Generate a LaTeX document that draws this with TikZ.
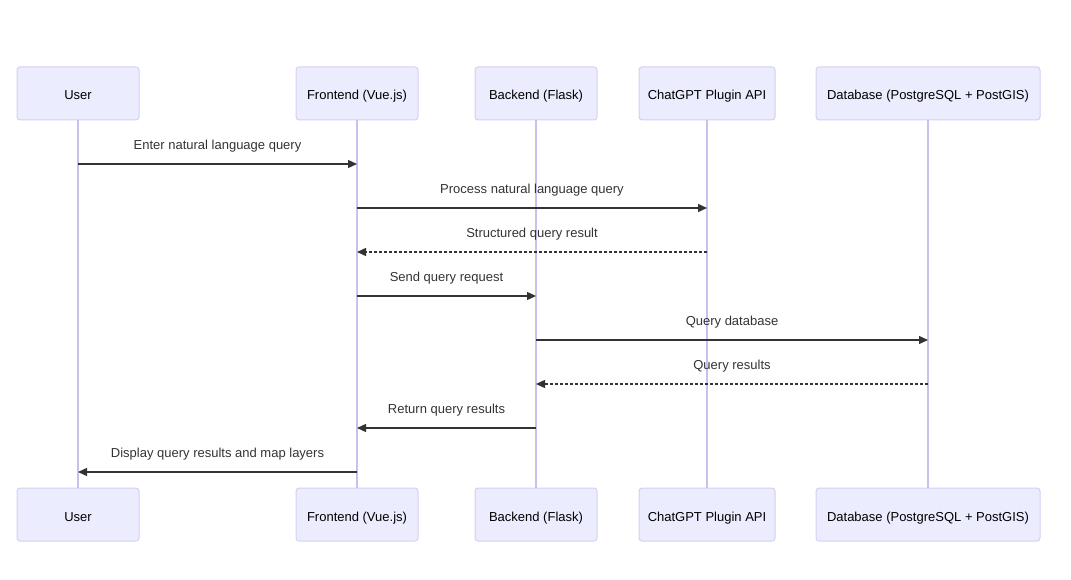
\documentclass[tikz,border=0pt]{standalone}
\usepackage{fontspec}
\setmainfont{Liberation Sans}
\usetikzlibrary{arrows.meta}
\definecolor{actfill}{HTML}{ECECFF}
\definecolor{actline}{HTML}{D6CEF2}
\definecolor{lifeline}{HTML}{CBBFF0}
\definecolor{msgc}{HTML}{333333}
\begin{document}
\begin{tikzpicture}[x=1pt,y=-1pt,
  actor/.style={draw=actline,fill=actfill,rounded corners=3pt,line width=1pt,
    minimum height=53pt,inner sep=0pt,text height=13pt,text depth=0pt,
    font=\fontsize{13}{15}\selectfont,text=black},
  life/.style={draw=lifeline,line width=1.2pt},
  msg/.style={draw=msgc,line width=1.4pt,-{Triangle[length=9pt,width=8pt]}},
  reply/.style={msg,dash pattern=on 3pt off 2pt},
  lbl/.style={font=\fontsize{13}{15}\selectfont,text=msgc,above=11pt,inner sep=0pt}]
\useasboundingbox (0,0) rectangle (1071,580);
% top actors
\node[actor,minimum width=122pt] (uT) at (78,93.5) {User};
\node[actor,minimum width=122pt] (fT) at (357,93.5) {Frontend (Vue.js)};
\node[actor,minimum width=122pt] (bT) at (536,93.5) {Backend (Flask)};
\node[actor,minimum width=136pt] (cT) at (707,93.5) {ChatGPT Plugin API};
\node[actor,minimum width=224pt] (dT) at (928,93.5) {Database (PostgreSQL + PostGIS)};
% bottom actors
\node[actor,minimum width=122pt] (uB) at (78,514.5) {User};
\node[actor,minimum width=122pt] (fB) at (357,514.5) {Frontend (Vue.js)};
\node[actor,minimum width=122pt] (bB) at (536,514.5) {Backend (Flask)};
\node[actor,minimum width=136pt] (cB) at (707,514.5) {ChatGPT Plugin API};
\node[actor,minimum width=224pt] (dB) at (928,514.5) {Database (PostgreSQL + PostGIS)};
% lifelines
\draw[life] (uT.south) -- (uB.north);
\draw[life] (fT.south) -- (fB.north);
\draw[life] (bT.south) -- (bB.north);
\draw[life] (cT.south) -- (cB.north);
\draw[life] (dT.south) -- (dB.north);
% messages
\draw[msg] (uT.south |- 0,164) -- node[lbl]{Enter natural language query} (fT.south |- 0,164);
\draw[msg] (fT.south |- 0,208) -- node[lbl]{Process natural language query} (cT.south |- 0,208);
\draw[reply] (cT.south |- 0,252) -- node[lbl]{Structured query result} (fT.south |- 0,252);
\draw[msg] (fT.south |- 0,296) -- node[lbl]{Send query request} (bT.south |- 0,296);
\draw[msg] (bT.south |- 0,340) -- node[lbl]{Query database} (dT.south |- 0,340);
\draw[reply] (dT.south |- 0,384) -- node[lbl]{Query results} (bT.south |- 0,384);
\draw[msg] (bT.south |- 0,428) -- node[lbl]{Return query results} (fT.south |- 0,428);
\draw[msg] (fT.south |- 0,472) -- node[lbl]{Display query results and map layers} (uT.south |- 0,472);
\end{tikzpicture}
\end{document}
